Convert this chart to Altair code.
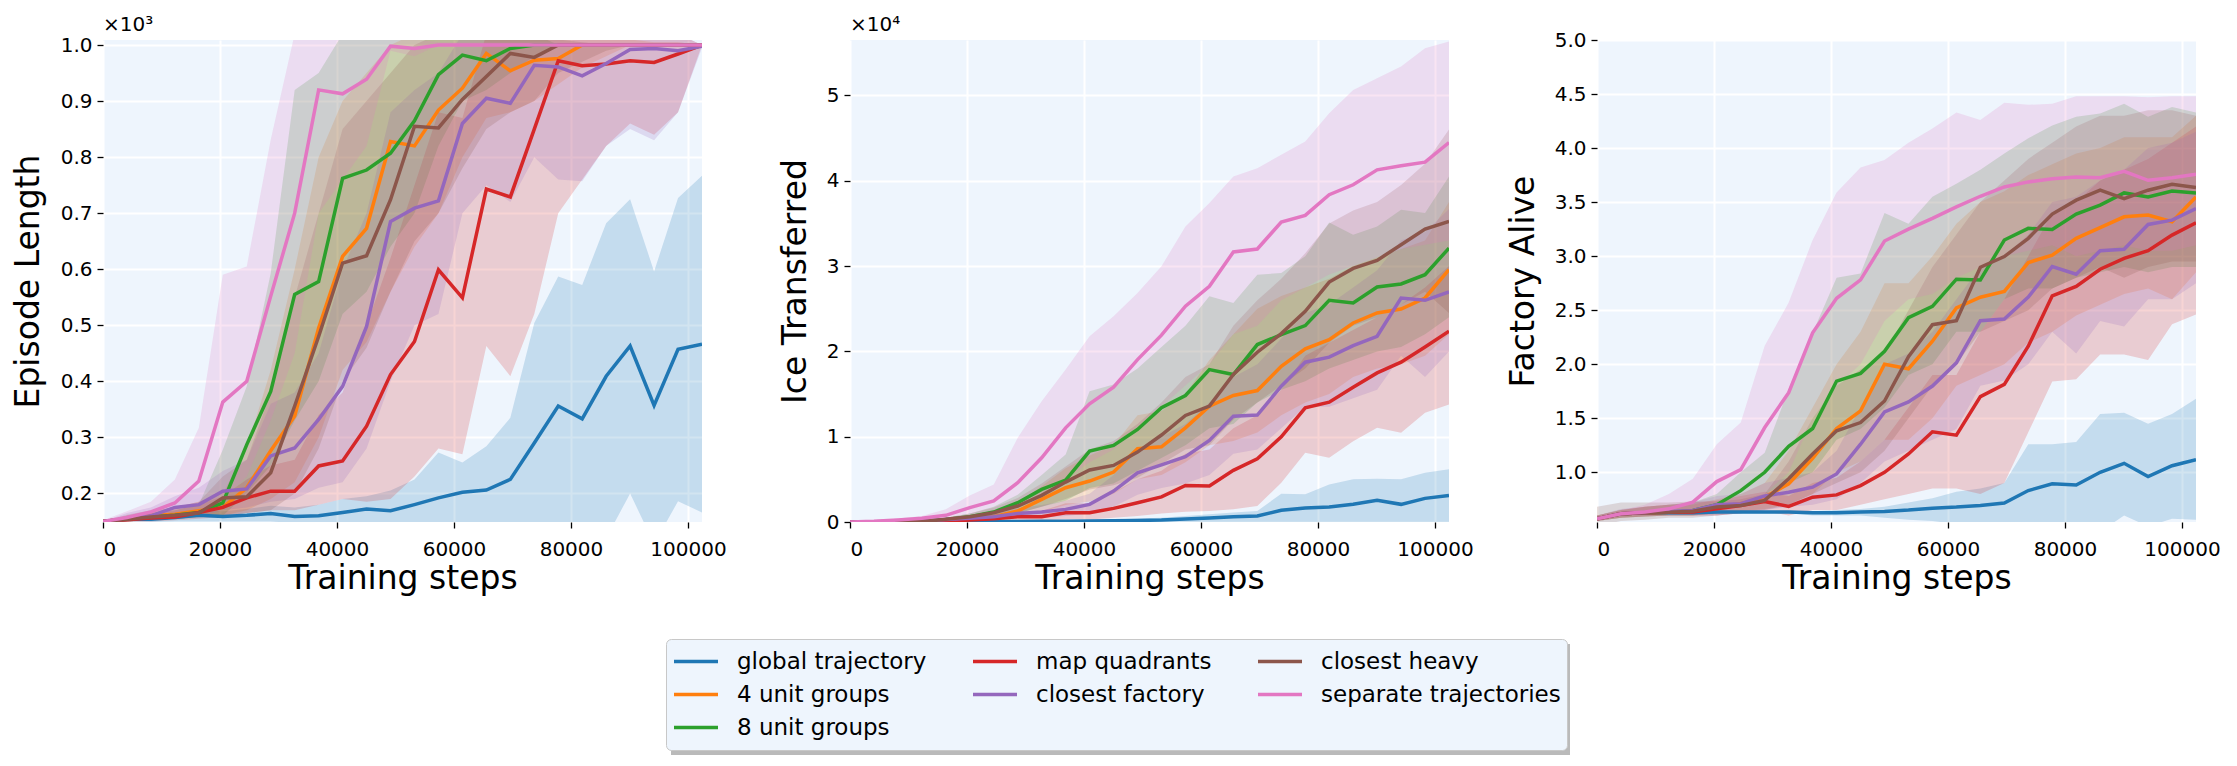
import altair as alt
import pandas as pd

# Training steps at which every run was evaluated
STEPS = [0, 4096, 8192, 12288, 16384, 20480, 24576, 28672, 32768, 36864, 40960, 45056, 49152,
         53248, 57344, 61440, 65536, 69632, 73728, 77824, 81920, 86016, 90112, 94208, 98304, 102400]

SERIES = ["global trajectory", "4 unit groups", "8 unit groups", "map quadrants",
          "closest factory", "closest heavy", "separate trajectories"]
COLORS = ["#1f77b4", "#ff7f0e", "#2ca02c", "#d62728", "#9467bd", "#8c564b", "#e377c2"]
# Vega re-sorts a multi-column vertical legend column-wise; this domain order
# yields columns (global, 4 unit, 8 unit), (map, closest factory), (closest heavy, separate)
LEGEND_ORDER = ["global trajectory", "4 unit groups", "separate trajectories",
                "map quadrants", "closest factory", "8 unit groups", "closest heavy"]

# ---------------- Episode Length (mean, lower, upper) ----------------
ep_glob = [150, 154, 154, 157, 161, 159, 161, 164, 159, 160, 166, 172, 169, 180, 192, 202, 206, 225, 290, 356, 333, 409, 463, 357, 457, 466]
ep_glob_lo = [150, 150, 149, 150, 150, 150, 150, 150, 147, 148, 148, 140, 130, 120, 110, 100, 110, 120, 110, 100, 140, 120, 200, 110, 186, 166]
ep_glob_hi = [150, 158, 160, 163, 170, 168, 172, 178, 175, 180, 190, 195, 205, 225, 273, 255, 284, 335, 504, 587, 572, 682, 725, 596, 727, 767]

ep_u4 = [150, 155, 160, 163, 169, 175, 210, 276, 338, 495, 623, 673, 828, 820, 884, 923, 985, 954, 973, 976, 1000, 1000, 1000, 1000, 1000, 1000]
ep_u4_lo = [150, 150, 152, 155, 158, 160, 170, 190, 220, 300, 420, 470, 560, 640, 700, 800, 870, 880, 900, 930, 960, 980, 1000, 1000, 1000, 1000]
ep_u4_hi = [150, 160, 168, 175, 185, 200, 280, 420, 600, 800, 900, 950, 1000, 1020, 1020, 1020, 1020, 1020, 1020, 1020, 1020, 1020, 1010, 1005, 1005, 1000]

ep_u8 = [150, 155, 158, 161, 166, 183, 287, 382, 555, 578, 762, 777, 807, 865, 947, 982, 972, 994, 1000, 1000, 1000, 1000, 1000, 1000, 1000, 1000]
ep_u8_lo = [150, 150, 153, 155, 158, 160, 200, 250, 330, 400, 520, 560, 640, 700, 820, 900, 920, 950, 980, 1000, 1000, 1000, 1000, 1000, 1000, 1000]
ep_u8_hi = [150, 160, 165, 170, 180, 278, 391, 593, 920, 950, 1020, 1020, 1020, 1020, 1020, 1020, 1020, 1020, 1020, 1000, 1000, 1000, 1000, 1000, 1000, 1000]

ep_quad = [150, 153, 156, 158, 166, 175, 192, 204, 204, 249, 258, 320, 412, 471, 599, 549, 743, 729, 850, 972, 963, 966, 972, 969, 984, 1000]
ep_quad_lo = [150, 150, 150, 152, 155, 158, 165, 170, 170, 180, 190, 185, 190, 230, 280, 270, 463, 409, 520, 700, 760, 820, 860, 840, 880, 1000]
ep_quad_hi = [150, 158, 165, 170, 180, 195, 225, 250, 260, 340, 380, 500, 620, 750, 880, 870, 1020, 1020, 1020, 1020, 1020, 1020, 1020, 1020, 1020, 1000]

ep_fact = [150, 155, 160, 175, 180, 204, 208, 267, 281, 332, 391, 498, 685, 709, 722, 860, 905, 896, 964, 961, 945, 967, 992, 994, 990, 998]
ep_fact_lo = [150, 150, 152, 155, 158, 170, 175, 185, 190, 210, 220, 280, 400, 500, 520, 700, 750, 720, 800, 760, 757, 820, 850, 830, 880, 995]
ep_fact_hi = [150, 165, 175, 195, 210, 240, 260, 360, 380, 450, 600, 700, 880, 920, 950, 1020, 1020, 1020, 1020, 1020, 1020, 1020, 1020, 1020, 1020, 1000]

ep_heavy = [150, 154, 158, 161, 165, 192, 194, 237, 356, 480, 611, 624, 724, 855, 852, 903, 944, 985, 978, 1000, 1000, 1000, 1000, 1000, 1000, 1000]
ep_heavy_lo = [150, 150, 152, 155, 158, 160, 165, 170, 200, 280, 400, 460, 560, 650, 700, 780, 850, 880, 900, 950, 970, 990, 1000, 1000, 1000, 1000]
ep_heavy_hi = [150, 162, 170, 175, 185, 230, 260, 380, 550, 700, 850, 900, 950, 1000, 1020, 1020, 1020, 1020, 1020, 1010, 1005, 1000, 1000, 1000, 1000, 1000]

ep_sep = [150, 157, 167, 183, 222, 363, 400, 552, 700, 920, 913, 939, 998, 994, 1000, 1000, 1000, 1000, 1000, 1000, 1000, 1000, 1000, 1000, 1000, 1000]
ep_sep_lo = [150, 150, 155, 160, 170, 190, 230, 330, 450, 700, 760, 820, 990, 980, 1000, 1000, 1000, 1000, 1000, 1000, 1000, 1000, 1000, 1000, 1000, 1000]
ep_sep_hi = [152, 168, 185, 225, 317, 590, 605, 831, 1020, 1020, 1020, 1020, 1020, 1010, 1005, 1005, 1005, 1005, 1005, 1005, 1005, 1005, 1005, 1005, 1005, 1000]

# ---------------- Ice Transferred (mean, lower, upper) ----------------
ice_glob = [0, 0, 10, 20, 30, 40, 50, 60, 80, 100, 120, 150, 180, 230, 350, 470, 620, 700, 1370, 1640, 1760, 2070, 2540, 2070, 2770, 3120]
ice_glob_lo = [0, 0, 0, 0, 0, 0, 0, 0, 0, 0, 0, 0, 0, 0, 0, 0, 0, 0, 0, 0, 0, 0, 0, 0, 0, 0]
ice_glob_hi = [0, 0, 20, 40, 60, 80, 100, 130, 160, 200, 250, 300, 400, 500, 700, 900, 1100, 1290, 3320, 3240, 4410, 5000, 5070, 5000, 5770, 6170]

ice_u4 = [0, 20, 40, 80, 150, 310, 620, 1290, 2650, 4020, 4800, 5850, 8580, 8820, 11040, 13580, 14830, 15410, 18260, 20290, 21380, 23330, 24500, 24970, 26260, 29580]
ice_u4_lo = [0, 5, 10, 30, 60, 120, 250, 500, 1200, 2000, 2400, 3300, 5000, 5500, 7000, 9000, 9500, 10500, 12500, 14000, 15000, 17000, 18000, 18500, 19500, 22000]
ice_u4_hi = [0, 40, 80, 150, 300, 600, 1100, 2200, 4200, 6300, 7800, 9000, 12500, 13000, 15000, 19000, 22000, 25000, 26500, 27500, 28500, 30000, 31000, 32000, 33000, 37500]

ice_u8 = [0, 30, 60, 100, 300, 620, 1170, 2260, 3820, 4920, 8310, 8970, 10850, 13400, 14830, 17870, 17290, 20800, 21970, 23020, 25990, 25680, 27550, 27900, 28990, 32110]
ice_u8_lo = [0, 10, 20, 40, 100, 250, 500, 1000, 1800, 2500, 4000, 4500, 6000, 7500, 9000, 11000, 11500, 14000, 15500, 16500, 18000, 19000, 20000, 20500, 22000, 24000]
ice_u8_hi = [0, 60, 120, 200, 500, 1000, 1800, 3200, 5500, 7920, 15330, 16110, 18000, 20500, 23000, 26460, 25680, 28990, 29190, 31140, 35120, 33670, 34650, 36600, 36210, 40500]

ice_quad = [0, 10, 20, 40, 80, 230, 390, 620, 620, 1090, 1090, 1600, 2260, 2950, 4290, 4210, 6050, 7410, 9990, 13380, 14050, 15800, 17480, 18730, 20520, 22360]
ice_quad_lo = [0, 0, 5, 10, 20, 50, 100, 200, 200, 300, 300, 500, 700, 1000, 1200, 1300, 1500, 1870, 4600, 8120, 7530, 9480, 11040, 10460, 12800, 13770]
ice_quad_hi = [0, 20, 40, 80, 200, 500, 800, 1300, 1300, 2200, 2200, 3500, 5000, 6000, 8000, 8500, 11000, 12500, 15500, 19500, 21000, 22500, 24000, 25500, 27500, 30000]

ice_fact = [0, 20, 40, 80, 300, 430, 620, 1010, 1170, 1480, 2070, 3630, 5770, 6700, 7650, 9560, 12410, 12530, 15920, 18730, 19320, 20680, 21770, 26260, 25990, 26960]
ice_fact_lo = [0, 5, 10, 30, 100, 200, 300, 500, 500, 700, 1000, 1800, 3200, 4000, 4500, 5500, 8000, 8500, 11000, 13500, 13500, 14500, 15500, 19500, 17000, 20000]
ice_fact_hi = [0, 30, 60, 120, 500, 700, 1000, 1600, 2000, 2500, 3300, 5500, 8500, 10000, 11500, 14000, 17000, 18500, 21500, 24500, 25500, 27500, 29500, 33000, 34000, 36700]

ice_heavy = [0, 10, 20, 50, 310, 620, 1090, 1870, 3120, 4680, 6090, 6630, 8190, 10200, 12490, 13580, 17290, 19900, 22090, 24700, 28130, 29730, 30670, 32500, 34340, 35240]
ice_heavy_lo = [0, 0, 5, 20, 100, 250, 500, 1000, 1800, 2700, 3800, 4300, 5200, 6800, 8500, 9000, 12000, 14000, 16000, 18000, 21000, 23000, 24000, 25500, 27000, 24500]
ice_heavy_hi = [0, 30, 60, 120, 500, 1000, 1700, 2800, 4500, 6500, 8500, 9500, 11500, 14000, 17000, 18500, 23000, 26000, 28500, 31500, 35000, 36500, 37500, 39500, 42000, 46000]

ice_sep = [0, 80, 230, 430, 780, 1680, 2460, 4600, 7530, 11040, 13850, 15800, 19040, 21900, 25290, 27630, 31650, 32000, 35160, 35940, 38360, 39530, 41280, 41750, 42180, 44480]
ice_sep_lo = [0, 20, 60, 100, 200, 500, 900, 1800, 3000, 5000, 7000, 8500, 11000, 13500, 16000, 18500, 22000, 23000, 26000, 27500, 29000, 30000, 31000, 32000, 32500, 33000]
ice_sep_hi = [0, 150, 400, 700, 1480, 3120, 4410, 9870, 14160, 17870, 21770, 24110, 26850, 29970, 34650, 37380, 40500, 41480, 43040, 44600, 47920, 50650, 52010, 53380, 55530, 56310]

# ---------------- Factory Alive (mean, lower, upper) ----------------
fa_glob = [0.570, 0.616, 0.625, 0.625, 0.625, 0.632, 0.632, 0.632, 0.632, 0.625, 0.625, 0.632, 0.638, 0.650, 0.668, 0.678, 0.693, 0.715, 0.831, 0.893, 0.883, 1.000, 1.083, 0.960, 1.061, 1.117]
fa_glob_lo = [0.56, 0.60, 0.61, 0.61, 0.61, 0.62, 0.62, 0.62, 0.62, 0.60, 0.60, 0.60, 0.58, 0.56, 0.55, 0.52, 0.50, 0.50, 0.45, 0.50, 0.50, 0.45, 0.60, 0.50, 0.57, 0.56]
fa_glob_hi = [0.58, 0.62, 0.63, 0.63, 0.63, 0.64, 0.64, 0.64, 0.64, 0.64, 0.65, 0.66, 0.68, 0.72, 0.76, 0.82, 0.85, 0.90, 1.26, 1.26, 1.28, 1.54, 1.55, 1.45, 1.54, 1.68]

fa_u4 = [0.57, 0.616, 0.625, 0.63, 0.64, 0.678, 0.71, 0.77, 0.893, 1.13, 1.405, 1.568, 2.0, 1.958, 2.213, 2.52, 2.62, 2.673, 2.94, 3.01, 3.165, 3.263, 3.364, 3.38, 3.318, 3.548]
fa_u4_lo = [0.55, 0.58, 0.59, 0.60, 0.60, 0.62, 0.64, 0.66, 0.70, 0.80, 1.00, 1.10, 1.30, 1.30, 1.50, 1.80, 1.90, 2.00, 2.20, 2.30, 2.45, 2.55, 2.65, 2.70, 2.60, 2.85]
fa_u4_hi = [0.60, 0.65, 0.68, 0.70, 0.70, 0.75, 0.80, 0.90, 1.20, 1.60, 2.00, 2.30, 2.75, 2.75, 3.00, 3.30, 3.50, 3.60, 3.75, 3.85, 3.95, 4.00, 4.10, 4.10, 4.10, 4.30]

fa_u8 = [0.57, 0.616, 0.625, 0.63, 0.647, 0.70, 0.83, 1.0, 1.24, 1.405, 1.844, 1.915, 2.12, 2.43, 2.535, 2.787, 2.78, 3.149, 3.257, 3.247, 3.389, 3.472, 3.585, 3.548, 3.603, 3.585]
fa_u8_lo = [0.55, 0.58, 0.59, 0.60, 0.60, 0.62, 0.70, 0.80, 0.90, 1.00, 1.30, 1.40, 1.60, 1.90, 2.00, 2.30, 2.30, 2.60, 2.70, 2.70, 2.80, 2.85, 2.90, 2.85, 2.90, 2.90]
fa_u8_hi = [0.60, 0.65, 0.68, 0.70, 0.72, 0.80, 1.00, 1.18, 1.77, 2.29, 2.80, 2.84, 3.40, 3.30, 3.55, 3.67, 3.80, 3.95, 4.09, 4.21, 4.29, 4.32, 4.41, 4.29, 4.38, 4.33]

fa_quad = [0.57, 0.616, 0.625, 0.63, 0.632, 0.662, 0.693, 0.73, 0.684, 0.77, 0.791, 0.877, 1.0, 1.17, 1.375, 1.344, 1.70, 1.814, 2.167, 2.633, 2.72, 2.879, 2.98, 3.051, 3.195, 3.309]
fa_quad_lo = [0.55, 0.58, 0.59, 0.60, 0.60, 0.60, 0.62, 0.64, 0.60, 0.65, 0.65, 0.70, 0.75, 0.80, 0.85, 0.85, 0.80, 0.90, 1.37, 1.84, 1.86, 2.09, 2.09, 2.04, 2.37, 2.46]
fa_quad_hi = [0.60, 0.65, 0.68, 0.70, 0.72, 0.74, 0.78, 0.82, 0.78, 0.90, 0.95, 1.10, 1.30, 1.60, 1.90, 1.90, 2.30, 2.60, 3.00, 3.40, 3.50, 3.70, 3.80, 3.90, 4.05, 4.20]

fa_fact = [0.57, 0.616, 0.625, 0.638, 0.647, 0.70, 0.71, 0.78, 0.816, 0.862, 0.985, 1.26, 1.559, 1.651, 1.798, 2.013, 2.403, 2.418, 2.621, 2.904, 2.833, 3.05, 3.063, 3.293, 3.333, 3.441]
fa_fact_lo = [0.55, 0.58, 0.59, 0.60, 0.60, 0.60, 0.62, 0.65, 0.68, 0.70, 0.75, 0.90, 1.10, 1.20, 1.30, 1.40, 1.80, 1.85, 2.00, 2.30, 2.10, 2.40, 2.35, 2.60, 2.60, 2.75]
fa_fact_hi = [0.60, 0.66, 0.68, 0.70, 0.72, 0.78, 0.80, 0.90, 0.95, 1.00, 1.20, 1.60, 2.00, 2.10, 2.30, 2.60, 2.90, 3.00, 3.20, 3.50, 3.55, 3.70, 3.80, 4.00, 4.05, 4.15]

fa_heavy = [0.57, 0.616, 0.625, 0.63, 0.64, 0.678, 0.693, 0.74, 0.94, 1.17, 1.384, 1.46, 1.66, 2.07, 2.366, 2.403, 2.897, 2.996, 3.165, 3.389, 3.518, 3.61, 3.533, 3.61, 3.665, 3.634]
fa_heavy_lo = [0.50, 0.55, 0.56, 0.58, 0.58, 0.60, 0.62, 0.65, 0.70, 0.80, 0.90, 1.00, 1.20, 1.50, 1.80, 2.00, 2.30, 2.40, 2.50, 2.70, 2.80, 2.90, 2.80, 2.90, 2.95, 2.95]
fa_heavy_hi = [0.68, 0.72, 0.72, 0.72, 0.73, 0.73, 0.75, 0.80, 1.10, 1.50, 1.80, 1.95, 2.10, 2.50, 2.90, 3.20, 3.50, 3.70, 3.90, 4.05, 4.20, 4.30, 4.30, 4.35, 4.35, 4.30]

fa_sep = [0.57, 0.616, 0.632, 0.662, 0.724, 0.914, 1.025, 1.414, 1.737, 2.29, 2.61, 2.78, 3.14, 3.25, 3.349, 3.456, 3.554, 3.640, 3.687, 3.717, 3.733, 3.726, 3.785, 3.702, 3.726, 3.757]
fa_sep_lo = [0.55, 0.59, 0.60, 0.60, 0.60, 0.62, 0.68, 0.80, 1.00, 1.50, 1.80, 2.00, 2.40, 2.60, 2.65, 2.80, 2.90, 3.00, 3.05, 3.10, 3.00, 3.05, 3.10, 3.05, 3.05, 3.10]
fa_sep_hi = [0.60, 0.65, 0.70, 0.80, 0.94, 1.26, 1.46, 2.17, 2.57, 3.15, 3.59, 3.82, 3.89, 4.05, 4.18, 4.33, 4.26, 4.42, 4.40, 4.41, 4.48, 4.48, 4.48, 4.47, 4.48, 4.48]

FONT = "DejaVu Sans"
BG = "#EEF5FD"
PANEL_W, PANEL_H = 599, 482


def frame(groups):
    rows = []
    for name, (mean, lo, hi) in zip(SERIES, groups):
        for s, m, l, h in zip(STEPS, mean, lo, hi):
            rows.append({"step": s, "series": name, "mean": m, "lo": l, "hi": h})
    return pd.DataFrame(rows)


ep_df = frame([(ep_glob, ep_glob_lo, ep_glob_hi), (ep_u4, ep_u4_lo, ep_u4_hi),
               (ep_u8, ep_u8_lo, ep_u8_hi), (ep_quad, ep_quad_lo, ep_quad_hi),
               (ep_fact, ep_fact_lo, ep_fact_hi), (ep_heavy, ep_heavy_lo, ep_heavy_hi),
               (ep_sep, ep_sep_lo, ep_sep_hi)])
ice_df = frame([(ice_glob, ice_glob_lo, ice_glob_hi), (ice_u4, ice_u4_lo, ice_u4_hi),
                (ice_u8, ice_u8_lo, ice_u8_hi), (ice_quad, ice_quad_lo, ice_quad_hi),
                (ice_fact, ice_fact_lo, ice_fact_hi), (ice_heavy, ice_heavy_lo, ice_heavy_hi),
                (ice_sep, ice_sep_lo, ice_sep_hi)])
fa_df = frame([(fa_glob, fa_glob_lo, fa_glob_hi), (fa_u4, fa_u4_lo, fa_u4_hi),
               (fa_u8, fa_u8_lo, fa_u8_hi), (fa_quad, fa_quad_lo, fa_quad_hi),
               (fa_fact, fa_fact_lo, fa_fact_hi), (fa_heavy, fa_heavy_lo, fa_heavy_hi),
               (fa_sep, fa_sep_lo, fa_sep_hi)])

color_of = dict(zip(SERIES, COLORS))
color_scale = alt.Scale(domain=LEGEND_ORDER, range=[color_of[n] for n in LEGEND_ORDER])

x_enc = alt.X(
    "step:Q",
    scale=alt.Scale(domain=[0, 102400], nice=False, zero=False),
    axis=alt.Axis(values=[0, 20000, 40000, 60000, 80000, 100000], format="d",
                  title="Training steps", labelBaseline="alphabetic", labelPadding=27,
                  titleBaseline="alphabetic", titleY=66),
)

legend = alt.Legend(
    title=None, orient="none", legendX=-184, legendY=599, columns=3,
    values=LEGEND_ORDER, clipHeight=33,
    symbolType="stroke", symbolSize=1936, symbolStrokeWidth=3.5, symbolOpacity=1,
    labelFont=FONT, labelFontSize=23, labelColor="black", labelLimit=400,
    labelOffset=17, columnPadding=44, rowPadding=0, padding=6,
    fillColor=BG, strokeColor="#c8c8c8", cornerRadius=5,
)


def panel(df, title, domain, ticks, label_expr, exponent, title_x, with_legend=False):
    y_scale = alt.Scale(domain=domain, nice=False, zero=False)
    y_axis = alt.Axis(values=ticks, labelExpr=label_expr, title=title,
                      titleX=title_x, titleBaseline="middle", labelPadding=5)
    leg = legend if with_legend else None
    base = alt.Chart(df)
    bands = base.mark_area(opacity=0.2, clip=True).encode(
        x=x_enc,
        y=alt.Y("lo:Q", scale=y_scale, axis=y_axis, stack=None),
        y2="hi:Q",
        color=alt.Color("series:N", scale=color_scale, legend=leg),
    )
    lines = base.mark_line(strokeWidth=3.5, clip=True).encode(
        x=x_enc,
        y=alt.Y("mean:Q", scale=y_scale, axis=y_axis),
        color=alt.Color("series:N", scale=color_scale, legend=leg),
    )
    layers = []
    if with_legend:
        # drop shadow behind the legend box
        shadow = alt.Chart(pd.DataFrame({"k": [0]})).mark_rect(
            color="#8c8c8c", opacity=0.6
        ).encode(x=alt.value(-179), x2=alt.value(720), y=alt.value(604), y2=alt.value(715))
        layers.append(shadow)
    layers += [bands, lines]
    if exponent:
        exp_text = alt.Chart(pd.DataFrame({"t": [exponent]})).mark_text(
            align="left", baseline="alphabetic", fontSize=20, font=FONT, color="black"
        ).encode(x=alt.value(0), y=alt.value(-9), text="t:N")
        layers.append(exp_text)
    return alt.layer(*layers).properties(width=PANEL_W, height=PANEL_H)


p1 = panel(ep_df, "Episode Length", [149, 1009],
           [200, 300, 400, 500, 600, 700, 800, 900, 1000],
           "format(datum.value / 1000, '.1f')", "×10³", -75)
p2 = panel(ice_df, "Ice Transferred", [0, 56500],
           [0, 10000, 20000, 30000, 40000, 50000],
           "format(datum.value / 10000, 'd')", "×10⁴", -55, with_legend=True)
p3 = panel(fa_df, "Factory Alive", [0.54, 5.0],
           [1.0, 1.5, 2.0, 2.5, 3.0, 3.5, 4.0, 4.5, 5.0],
           "format(datum.value, '.1f')", None, -74)

chart = alt.hconcat(p1, p2, p3, spacing=148, bounds="flush").resolve_scale(
    color="independent"
).resolve_legend(color="independent").properties(
    padding={"left": 12, "top": 15, "right": 5, "bottom": 5},
    background="white",
).configure_view(
    fill=BG, stroke=None
).configure_axis(
    grid=True, gridColor="white", gridWidth=2, gridOpacity=1,
    domain=False, ticks=True, tickColor="black", tickSize=6, tickWidth=1.3,
    labelFont=FONT, labelFontSize=20, labelColor="black",
    titleFont=FONT, titleFontSize=33, titleFontWeight="normal", titleColor="black",
)

chart.save("out.html", embed_options={"renderer": "svg", "actions": False})
